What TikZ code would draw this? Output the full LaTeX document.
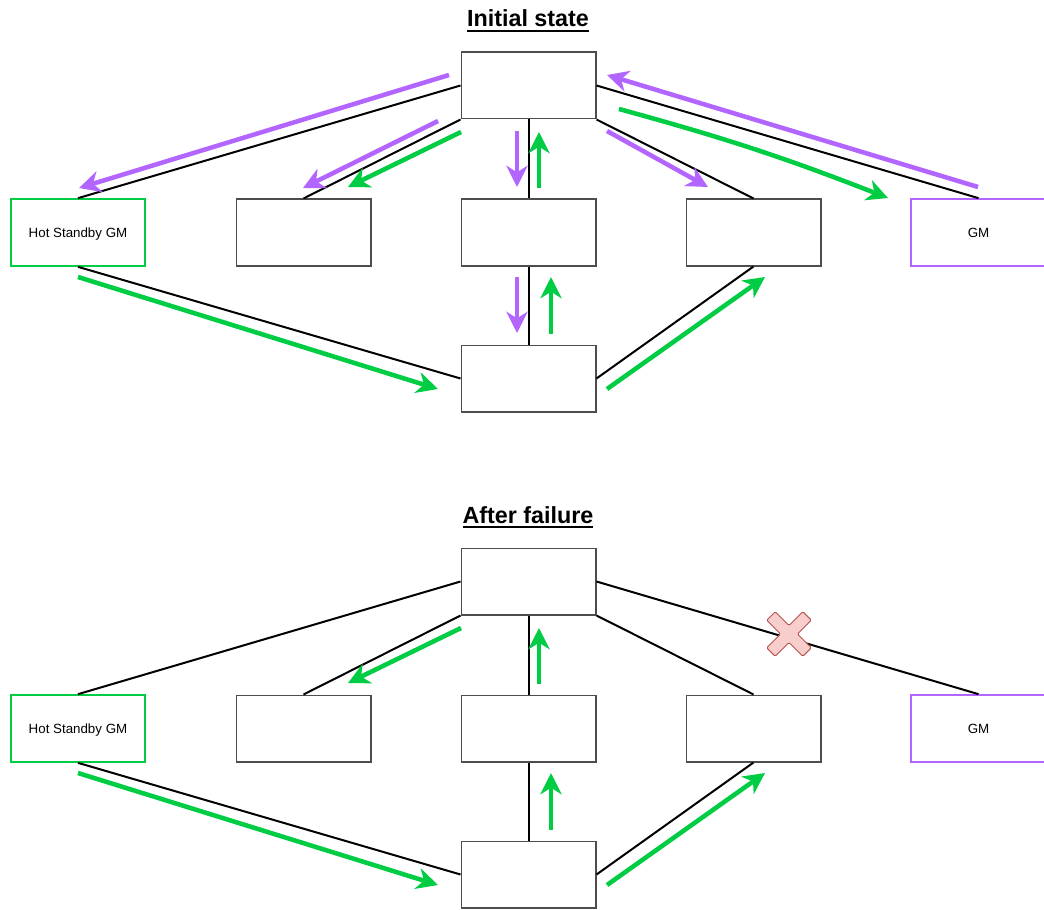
\documentclass[tikz,border=0pt]{standalone}
\usepackage{fontspec}
\setmainfont{Liberation Sans}
\usetikzlibrary{arrows.meta}
\definecolor{flowpurple}{HTML}{B266FF}
\definecolor{flowgreen}{HTML}{00CC44}
\definecolor{boxgray}{HTML}{4D4D4D}
\definecolor{failfill}{HTML}{F8CECC}
\definecolor{failline}{HTML}{B85450}
% bold heading with a heavy underline
\newcommand\ulheading[1]{\setbox0\hbox{#1}\rlap{\rule[-3.75pt]{\wd0}{1.5pt}}\box0}

\begin{document}
\begin{tikzpicture}[x=0.75pt,y=-0.75pt,
  box/.style={draw=boxgray, line width=1pt, fill=white, minimum width=101pt,
    minimum height=50pt, inner sep=0pt, text height=7.2pt, text depth=0pt,
    font=\fontsize{10}{12}\selectfont},
  standby/.style={box, draw=flowgreen, line width=1.5pt},
  master/.style={box, draw=flowpurple, line width=1.5pt},
  link/.style={line width=1.5pt, black},
  flowtip/.style={-{Stealth[length=16pt,width=16pt,inset=5pt]}},
  pflow/.style={draw=flowpurple, line width=3.4pt, flowtip},
  gflow/.style={draw=flowgreen, line width=3.4pt, flowtip},
  heading/.style={font=\fontsize{17.5}{20}\selectfont\bfseries, anchor=base, inner sep=0pt}
]
\useasboundingbox (0,0) rectangle (1044,909);

% ---------------- initial state ----------------
\node[heading] (h1) at (528,27) {\ulheading{Initial state}};

\node[box]     (t1)  at (528.5,85.5)  {};
\node[standby] (hs1) at (78,232.5)    {Hot Standby GM};
\node[box]     (b21) at (303.5,232.5) {};
\node[box]     (b31) at (528.5,232.5) {};
\node[box]     (b41) at (753.5,232.5) {};
\node[master]  (gm1) at (978.5,232.5) {GM};
\node[box]     (bt1) at (528.5,378.5) {};

\draw[link] (t1.west) -- (hs1.north);
\draw[link] (t1.south west) -- (b21.north);
\draw[link] (t1.south) -- (b31.north);
\draw[link] (t1.south east) -- (b41.north);
\draw[link] (t1.east) -- (gm1.north);
\draw[link] (hs1.south) -- (bt1.west);
\draw[link] (b31.south) -- (bt1.north);
\draw[link] (bt1.east) -- (b41.south);

\coordinate (pa1s) at (449,75);  \coordinate (pa1e) at (79,188);
\coordinate (pa2s) at (438,121); \coordinate (pa2e) at (303,188);
\coordinate (pa3s) at (517,131); \coordinate (pa3e) at (517,187);
\coordinate (pa4s) at (607,131); \coordinate (pa4e) at (708,187);
\coordinate (pa5s) at (978,187); \coordinate (pa5e) at (607,75);
\coordinate (pa6s) at (517,277); \coordinate (pa6e) at (517,333);

\coordinate (ga1s) at (461,132); \coordinate (ga1e) at (348,187);
\coordinate (ga2s) at (539,188); \coordinate (ga2e) at (539,132);
\coordinate (ga3s) at (619,109); \coordinate (ga3e) at (888,198);
\coordinate (ga4s) at (78,277);  \coordinate (ga4e) at (438,389);
\coordinate (ga5s) at (551,334); \coordinate (ga5e) at (551,277);
\coordinate (ga6s) at (607,389); \coordinate (ga6e) at (765,277);

\draw[pflow] (pa1s) -- (pa1e);
\draw[pflow] (pa2s) -- (pa2e);
\draw[pflow] (pa3s) -- (pa3e);
\draw[pflow] (pa4s) -- (pa4e);
\draw[pflow] (pa5s) -- (pa5e);
\draw[pflow] (pa6s) -- (pa6e);

\draw[gflow] (ga1s) -- (ga1e);
\draw[gflow] (ga2s) -- (ga2e);
\draw[gflow] (ga3s) to[bend left=3] (ga3e);
\draw[gflow] (ga4s) -- (ga4e);
\draw[gflow] (ga5s) -- (ga5e);
\draw[gflow] (ga6s) -- (ga6e);

% ---------------- after failure ----------------
\node[heading] (h2) at (528,523) {\ulheading{After failure}};

\node[box]     (t2)  at (528.5,581.5) {};
\node[standby] (hs2) at (78,728.5)    {Hot Standby GM};
\node[box]     (b22) at (303.5,728.5) {};
\node[box]     (b32) at (528.5,728.5) {};
\node[box]     (b42) at (753.5,728.5) {};
\node[master]  (gm2) at (978.5,728.5) {GM};
\node[box]     (bt2) at (528.5,874.5) {};

\draw[link] (t2.west) -- (hs2.north);
\draw[link] (t2.south west) -- (b22.north);
\draw[link] (t2.south) -- (b32.north);
\draw[link] (t2.south east) -- (b42.north);
\draw[link] (t2.east) -- (gm2.north);
\draw[link] (hs2.south) -- (bt2.west);
\draw[link] (b32.south) -- (bt2.north);
\draw[link] (bt2.east) -- (b42.south);

\coordinate (gb1s) at (461,628); \coordinate (gb1e) at (348,683);
\coordinate (gb2s) at (539,684); \coordinate (gb2e) at (539,628);
\coordinate (gb4s) at (78,773);  \coordinate (gb4e) at (438,885);
\coordinate (gb5s) at (551,830); \coordinate (gb5e) at (551,773);
\coordinate (gb6s) at (607,885); \coordinate (gb6e) at (765,773);

\draw[gflow] (gb1s) -- (gb1e);
\draw[gflow] (gb2s) -- (gb2e);
\draw[gflow] (gb4s) -- (gb4e);
\draw[gflow] (gb5s) -- (gb5e);
\draw[gflow] (gb6s) -- (gb6e);

% broken link marker
\draw[draw=failline, fill=failfill, line width=0.75pt, rounded corners=1pt,
      shift={(789,634)}, rotate=45]
  (6,6) -- (25.5,6) -- (25.5,-6) -- (6,-6) -- (6,-25.5) -- (-6,-25.5) -- (-6,-6)
  -- (-25.5,-6) -- (-25.5,6) -- (-6,6) -- (-6,25.5) -- (6,25.5) -- cycle;
\end{tikzpicture}
\end{document}
